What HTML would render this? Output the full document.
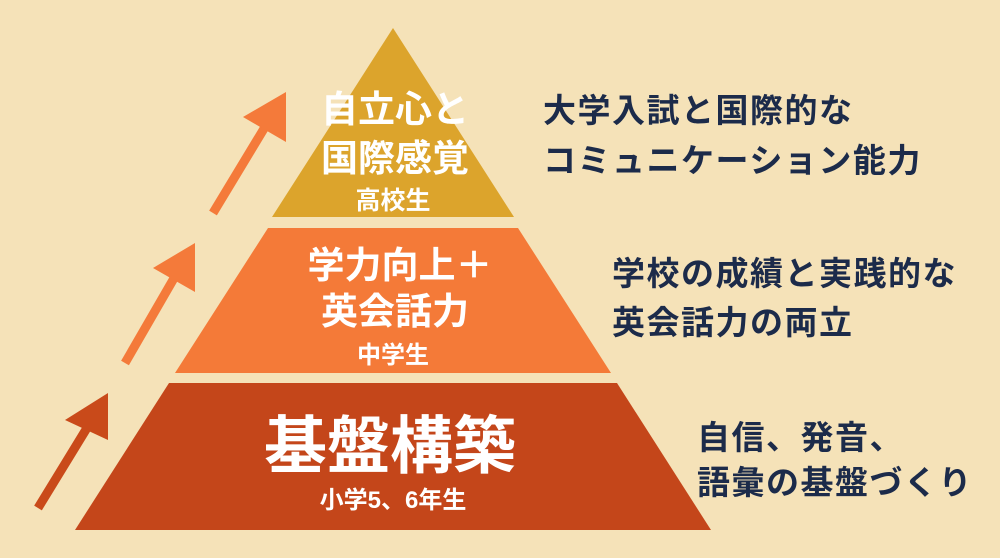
<!DOCTYPE html>
<html><head><meta charset="utf-8"><style>
html,body{margin:0;padding:0;background:#f5e2b8;}
svg{display:block}
text{font-family:"Liberation Sans","Noto Sans CJK JP",sans-serif;font-weight:700;}
</style></head><body>
<svg width="1000" height="558" viewBox="0 0 1000 558" xmlns="http://www.w3.org/2000/svg">
<rect width="1000" height="558" fill="#f5e2b8"/>
<polygon points="393,28 514,217 272,217" fill="#dca42c"/>
<polygon points="268,228 518,228 611,373 175,373" fill="#f47a38"/>
<polygon points="169,383 617,383 711,530 75,530" fill="#c4461a"/>
<g stroke-linecap="butt">
<line x1="38" y1="508" x2="90" y2="423" stroke="#c94a1a" stroke-width="9"/>
<polygon points="108,393 108,440 65,420" fill="#c94a1a"/>
<line x1="125" y1="363" x2="177" y2="273" stroke="#f47a3a" stroke-width="9"/>
<polygon points="195,243 195,292 153,268" fill="#f47a3a"/>
<line x1="213" y1="213" x2="268" y2="122" stroke="#f47a3a" stroke-width="9"/>
<polygon points="286,92 286,142 243,117" fill="#f47a3a"/>
</g>
<g fill="#fff" text-anchor="middle">
<text x="395" y="122" font-size="37">自立心と</text>
<text x="395" y="171" font-size="37">国際感覚</text>
<text x="393" y="209" font-size="25">高校生</text>
<text x="400" y="278" font-size="37">学力向上＋</text>
<text x="395" y="324" font-size="37">英会話力</text>
<text x="393" y="363" font-size="24">中学生</text>
<text x="390" y="468" font-size="63">基盤構築</text>
<text x="393" y="508" font-size="24">小学5、6年生</text>
</g>
<g fill="#1c2b4a" font-size="33" letter-spacing="1.5">
<text x="543" y="122">大学入試と国際的な</text>
<text x="543" y="172">コミュニケーション能力</text>
<text x="612" y="285">学校の成績と実践的な</text>
<text x="612" y="334">英会話力の両立</text>
<text x="697" y="449">自信、発音、</text>
<text x="697" y="494">語彙の基盤づくり</text>
</g>
</svg>
</body></html>
